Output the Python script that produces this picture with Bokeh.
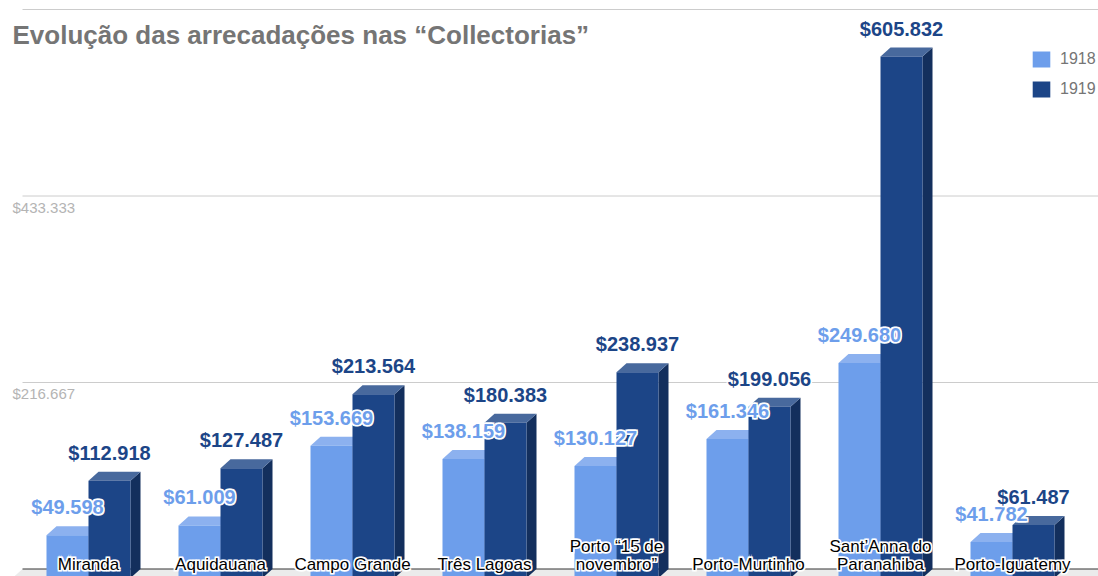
from bokeh.plotting import figure
from bokeh.models import Range1d, Legend, LegendItem, Label, ColumnDataSource
from bokeh.embed import file_html
from bokeh.resources import INLINE
from bokeh.core.properties import value

# ---------------- data ----------------
categories = ["Miranda", "Aquidauana", "Campo Grande", "Três Lagoas",
              "Porto “15 de\nnovembro”", "Porto-Murtinho",
              "Sant’Anna do\nParanahiba", "Porto-Iguatemy"]
years = ["1918", "1919"]
v1918 = [49598, 61009, 153669, 138159, 130127, 161346, 249680, 41782]
v1919 = [112918, 127487, 213564, 180383, 238937, 199056, 605832, 61487]
tick_values = [216667, 433333, 650000]
tick_labels = ["$216.667", "$433.333", ""]
title_text = "Evolução das arrecadações nas “Collectorias”"

FONT = "Liberation Sans"

# ---------------- geometry (pixel sizes converted to data units) ----------------
W, H = 1098, 576
PX_X = 1 / 132
X0 = -88 * PX_X
X1 = X0 + W * PX_X
Y_PER_PX = 650000 / 559.5
Y0, Y1 = -(H - 568.5) * Y_PER_PX, 650000 + 9 * Y_PER_PX
bw = 42 * PX_X      # bar face width
ddx = 10 * PX_X     # depth, x
ddy = 9 * Y_PER_PX  # depth, y
wall_left = X0 + 22 * PX_X

p = figure(width=W, height=H, x_range=Range1d(X0, X1), y_range=Range1d(Y0, Y1),
           output_backend="svg", toolbar_location=None,
           x_axis_location=None, y_axis_location=None, min_border=0,
           border_fill_color="white", background_fill_color="white")
p.grid.visible = False
p.outline_line_color = None

# floor
p.patch(x=[wall_left, X1 + 1, X1 + 1 - ddx, wall_left - ddx], y=[0, 0, -ddy, -ddy],
        fill_color="#ebebeb", line_color=None)

# gridlines
p.segment(x0=[wall_left] * len(tick_values), x1=[X1] * len(tick_values),
          y0=tick_values, y1=tick_values, line_color="#cccccc", line_width=1)
p.segment(x0=[wall_left], x1=[X1], y0=[0], y1=[0], line_color="#333333", line_width=1)

# tick labels
p.text(x=[X0 + 12 * PX_X] * len(tick_values), y=tick_values, text=tick_labels,
       text_font=value(FONT), text_font_size="15px", text_color="#b4b4b4",
       text_align="left", text_baseline="top", y_offset=3)

styles = {
    "1918": dict(front="#6d9eeb", top="#8cb1ef", side="#4f7cc4", label="#6d9eeb"),
    "1919": dict(front="#1c4587", top="#48699d", side="#132f5d", label="#1c4587"),
}

def fmt(v):
    return "$" + f"{v:,}".replace(",", ".")

front_renderers = {}
for yr, vals, shift in (("1918", v1918, -1), ("1919", v1919, 0)):
    st = styles[yr]
    a = [i + shift * bw for i in range(len(vals))]
    b = [ai + bw for ai in a]
    side_xs = [[bi, bi + ddx, bi + ddx, bi] for bi in b]
    side_ys = [[v - ddy, v, 0, -ddy] for v in vals]
    top_xs = [[ai, bi, bi + ddx, ai + ddx] for ai, bi in zip(a, b)]
    top_ys = [[v - ddy, v - ddy, v, v] for v in vals]
    p.patches(xs=side_xs, ys=side_ys, fill_color=st["side"], line_color=None)
    p.patches(xs=top_xs, ys=top_ys, fill_color=st["top"], line_color=None)
    src = ColumnDataSource(dict(left=a, right=b, top=[v - ddy for v in vals],
                                bottom=[Y0 - ddy] * len(vals)))
    front_renderers[yr] = p.quad(left="left", right="right", top="top", bottom="bottom",
                                 source=src, fill_color=st["front"], line_color=None)


def halo_text(x, y, text, color, size, bold, y_off, **kw):
    common = dict(text_font=value(FONT), text_font_size=size,
                  text_font_style="bold" if bold else "normal", **kw)
    for ox, oy in ((-1, -1), (1, -1), (-1, 1), (1, 1)):
        p.text(x=x, y=y, text=text, text_color="white", text_outline_color="white",
               x_offset=ox, y_offset=y_off + oy, **common)
    p.text(x=x, y=y, text=text, text_color=color, y_offset=y_off, **common)


# category labels
halo_text(list(range(len(categories))), [0] * len(categories), categories,
          "#000000", "17px", False, 5, text_align="center", text_baseline="bottom",
          text_line_height=0.95)

# value labels
for yr, vals, shift in (("1918", v1918, -1), ("1919", v1919, 0)):
    st = styles[yr]
    xc = [i + shift * bw + bw / 2 for i in range(len(vals))]
    halo_text(xc, vals, [fmt(v) for v in vals], st["label"], "20px", True, -19,
              text_align="center", text_baseline="middle")

# legend
legend = Legend(items=[LegendItem(label=yr, renderers=[front_renderers[yr]]) for yr in years],
                location=(1030, H - 99), orientation="vertical",
                glyph_width=22, glyph_height=20, label_height=20, spacing=10,
                padding=0, margin=0, border_line_color=None, background_fill_alpha=0,
                label_text_font=FONT, label_text_font_size="16px",
                label_text_color="#757575", label_standoff=8)
p.add_layout(legend)

# title
p.add_layout(Label(x=12, y=H - 34, x_units="screen", y_units="screen", text=title_text,
                   text_font=FONT, text_font_size="26px", text_font_style="bold",
                   text_color="#757575", text_baseline="alphabetic"))

open("out.html", "w").write(file_html(p, INLINE))
